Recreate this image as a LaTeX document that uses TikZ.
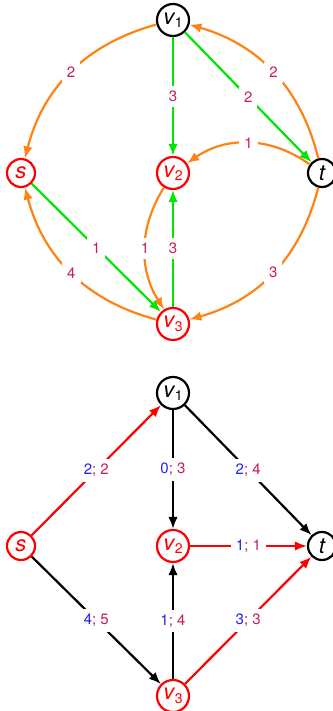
\documentclass[tikz,border=0pt]{standalone}
\usepackage{fontspec}
\setmainfont{TeX Gyre Heros}
\usetikzlibrary{arrows.meta}
\definecolor{forange}{RGB}{255,130,20}
\definecolor{fgreen}{RGB}{0,230,0}
\definecolor{fred}{RGB}{255,0,0}
\definecolor{lblmag}{RGB}{200,30,90}
\definecolor{lblblue}{RGB}{35,35,240}
\newcommand{\vn}[1]{\textit{v}\kern0.3pt\raisebox{-0.3ex}{\fontsize{14}{14}\selectfont\upshape #1}}
\newcommand{\fl}[2]{\textcolor{lblblue}{#1}; \textcolor{lblmag}{#2}}
\begin{document}
\begin{tikzpicture}[x=1pt,y=-1pt,
  vert/.style={circle,draw,line width=2.2pt,inner sep=0pt,minimum size=32pt,fill=white,
    font=\fontsize{22}{22}\selectfont\itshape},
  stv/.style={vert,minimum size=28pt},
  hot/.style={draw=fred,text=fred},
  lbl/.style={fill=white,inner sep=5pt,text=lblmag,font=\fontsize{15}{15}\selectfont},
  edge/.style={line width=2.2pt,-{Latex[length=12pt,width=9.5pt]}},
  oe/.style={edge,draw=forange},
  ge/.style={edge,draw=fgreen},
  re/.style={edge,draw=fred},
  be/.style={edge,draw=black}]
\useasboundingbox (0,0) rectangle (332,711);
% ---------- top graph ----------
\node[vert] (a1) at (173,20) {\vn{1}};
\node[stv,hot] (as) at (21,173) {s};
\node[vert,hot] (a2) at (173,173) {\vn{2}};
\node[stv] (at) at (322,173) {t};
\node[vert,hot] (a3) at (173,324) {\vn{3}};
\draw[oe] (a1) to[bend right=30] node[lbl]{2} (as);
\draw[oe] (at) to[bend right=30] node[lbl]{2} (a1);
\draw[oe] (at) to[bend left=30] node[lbl]{3} (a3);
\draw[oe] (a3) to[bend left=30] node[lbl]{4} (as);
\draw[oe] (at) to[bend right=35] node[lbl]{1} (a2);
\draw[oe] (a2) to[bend right=32] node[lbl]{1} (a3);
\draw[ge] (a1) -- node[lbl]{3} (a2);
\draw[ge] (a1) -- node[lbl]{2} (at);
\draw[ge] (as) -- node[lbl]{1} (a3);
\draw[ge] (a3) -- node[lbl]{3} (a2);
% ---------- bottom graph ----------
\node[vert] (b1) at (173,393) {\vn{1}};
\node[stv,hot] (bs) at (21,546) {s};
\node[vert,hot] (b2) at (173,546) {\vn{2}};
\node[stv] (bt) at (322,546) {t};
\node[vert,hot] (b3) at (173,696) {\vn{3}};
\draw[re] (bs) -- node[lbl]{\fl{2}{2}} (b1);
\draw[be] (b1) -- node[lbl]{\fl{0}{3}} (b2);
\draw[be] (b1) -- node[lbl]{\fl{2}{4}} (bt);
\draw[re] (b2) -- node[lbl]{\fl{1}{1}} (bt);
\draw[be] (bs) -- node[lbl]{\fl{4}{5}} (b3);
\draw[be] (b3) -- node[lbl]{\fl{1}{4}} (b2);
\draw[re] (b3) -- node[lbl]{\fl{3}{3}} (bt);
\end{tikzpicture}
\end{document}
